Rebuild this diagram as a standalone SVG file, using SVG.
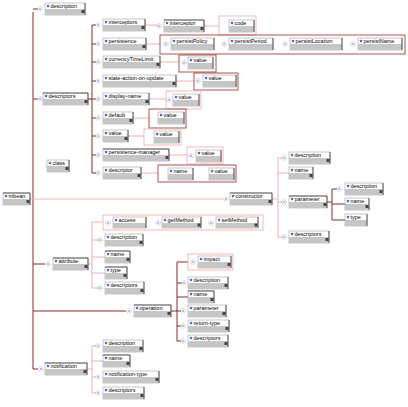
<svg xmlns="http://www.w3.org/2000/svg" xmlns:xlink="http://www.w3.org/1999/xlink" width="408" height="407" viewBox="0 0 408 407">
<style>
.dk{stroke:#8b2b2b;stroke-width:1;fill:none}
.pk{stroke:#f0b0b0;stroke-width:1;fill:none}
.b{fill:#fff;stroke:#909090;stroke-width:.5}
.g{fill:#c6c6c6}
.r{stroke:#333;stroke-width:.8}
.tp{stroke:#222;stroke-width:.7}
text{font-family:"Liberation Sans",Arial,sans-serif;font-size:5.5px;fill:#000}
.gp{fill:none;stroke:#f0a8a8;stroke-width:.8}
.gd{fill:none;stroke:#9a2a2a;stroke-width:.8}
</style>
<defs>
<path id="st" d="M0 -1.7 L.5 -.5 1.7 -.5 .7 .2 1 1.5 0 .7 -1 1.5 -.7 .2 -1.7 -.5 -.5 -.5z" fill="#1530c8"/>
<g id="ic"><circle r="2.3" fill="none" stroke="#8890a8" stroke-width=".6" stroke-dasharray=".8 .6"/><circle r=".7" fill="#3050c0"/></g>
<rect id="ex" width="3" height="3" fill="#444"/>
</defs>
<rect width="408" height="407" fill="#fff"/>

<g id="connectors">
<path class="dk" d="M33 12V369M33 9H38M33 99H38M33 264H45M33 311H126M33 369H38"/>
<path class="pk" d="M30 199H223"/>
<path class="dk" d="M88 99H92M92 25V173M92 25H96M92 44H96M92 62H96M92 81H96M92 99H96M92 118H96M92 136H96M92 155H96M92 173H96"/>
<path class="pk" d="M145 25H157M146 44H160M160 62H179M176 81H194M149 99H166M133 118H149M128 136H144M169 155H187M141 173H158M204 26H219"/>
<path class="pk" d="M272 199H278M278 158V237M278 158H282M278 173H289M278 202H282M278 237H282"/>
<path class="dk" d="M327 202H332M332 189V220M332 189H337M332 204H345M332 220H345"/>
<path class="pk" d="M88 264H92M92 222V288M92 222H103M92 240H98M92 257H105M92 273H105M92 288H98"/>
<path class="dk" d="M171 311H177M177 262V341M177 262H188M177 283H182M177 297H188M177 311H181M177 326H181M177 341H181"/>
<path class="pk" d="M87 369H92M92 346V393M92 346H96M92 361H103M92 377H96M92 393H96"/>
</g>

<g id="icons">
<use href="#ic" x="40" y="9"/><use href="#ic" x="40" y="99"/><use href="#ic" x="226" y="199"/><use href="#ic" x="48" y="264"/><use href="#ic" x="129" y="311"/><use href="#ic" x="41" y="369"/>
<use href="#ic" x="98" y="25"/><use href="#ic" x="98" y="44"/><use href="#ic" x="98" y="62"/><use href="#ic" x="98" y="81"/><use href="#ic" x="98" y="99"/><use href="#ic" x="98" y="118"/><use href="#ic" x="98" y="136"/><use href="#ic" x="98" y="155"/><use href="#ic" x="98" y="173"/>
<use href="#ic" x="159" y="26"/><use href="#ic" x="166" y="44"/><use href="#ic" x="224" y="44"/><use href="#ic" x="285" y="44"/><use href="#ic" x="353" y="44"/>
<use href="#ic" x="184" y="63"/><use href="#ic" x="198" y="81"/><use href="#ic" x="169" y="100"/><use href="#ic" x="191" y="156"/>
<use href="#ic" x="284" y="158"/><use href="#ic" x="284" y="202"/><use href="#ic" x="284" y="237"/><use href="#ic" x="339" y="189"/>
<use href="#ic" x="108" y="223"/><use href="#ic" x="158" y="223"/><use href="#ic" x="211" y="223"/><use href="#ic" x="100" y="240"/><use href="#ic" x="100" y="288"/>
<use href="#ic" x="193" y="262"/><use href="#ic" x="184" y="283"/><use href="#ic" x="183" y="311"/><use href="#ic" x="183" y="326"/><use href="#ic" x="183" y="341"/>
<use href="#ic" x="98" y="346"/><use href="#ic" x="98" y="377"/><use href="#ic" x="98" y="393"/>
</g>

<g id="groups">
<rect class="gp" x="219" y="16" width="37" height="19"/>
<rect class="gd" x="160" y="35" width="245" height="19"/>
<rect class="gd" x="179" y="55" width="37" height="17"/>
<rect class="gd" x="194" y="73" width="44" height="17"/>
<rect class="gp" x="166" y="91" width="35" height="18"/>
<rect class="gd" x="149" y="109" width="37" height="19"/>
<rect class="gp" x="144" y="129" width="37" height="16"/>
<rect class="gp" x="187" y="147" width="36" height="17"/>
<rect class="gd" x="158" y="165" width="78" height="17"/>
<rect class="gp" x="103" y="215" width="160" height="15"/>
<rect class="gp" x="188" y="254" width="45" height="16"/>
</g>

<g id="mbean" transform="translate(3,193)"><rect class="b" width="27" height="12"/><rect class="g" y="6" width="27" height="6"/><line class="tp" x1="0" y1="0" x2="27" y2="0"/><line class="r" x1="27" y1="0" x2="27" y2="12"/><use href="#st" x="3" y="3"/><use href="#ex" x="23.5" y="7"/><text x="5.5" y="5">mbean</text></g>
<g id="description" transform="translate(45,3)"><rect class="b" width="40" height="12"/><rect class="g" y="6" width="40" height="6"/><line class="r" x1="40" y1="0" x2="40" y2="12"/><use href="#st" x="3" y="3"/><use href="#ex" x="36.5" y="7"/><text x="5.5" y="5">description</text></g>
<g id="descriptors" transform="translate(43,93)"><rect class="b" width="45" height="12"/><rect class="g" y="6" width="45" height="6"/><line class="tp" x1="0" y1="0" x2="45" y2="0"/><line class="r" x1="45" y1="0" x2="45" y2="12"/><use href="#st" x="3" y="3"/><use href="#ex" x="41.5" y="7"/><text x="5.5" y="5">descriptors</text></g>
<g id="class" transform="translate(47,160)"><rect class="b" width="22" height="12"/><rect class="g" y="6" width="22" height="6"/><line class="r" x1="22" y1="0" x2="22" y2="12"/><use href="#st" x="3" y="3"/><use href="#ex" x="18.5" y="7"/><text x="5.5" y="5">class</text></g>
<g id="constructor" transform="translate(230,193)"><rect class="b" width="42" height="12"/><rect class="g" y="6" width="42" height="6"/><line class="tp" x1="0" y1="0" x2="42" y2="0"/><line class="r" x1="42" y1="0" x2="42" y2="12"/><use href="#st" x="3" y="3"/><use href="#ex" x="38.5" y="7"/><text x="5.5" y="5">constructor</text></g>
<g id="attribute" transform="translate(53,258)"><rect class="b" width="35" height="12"/><rect class="g" y="6" width="35" height="6"/><line class="tp" x1="0" y1="0" x2="35" y2="0"/><line class="r" x1="35" y1="0" x2="35" y2="12"/><use href="#st" x="3" y="3"/><use href="#ex" x="31.5" y="7"/><text x="5.5" y="5">attribute</text></g>
<g id="operation" transform="translate(134,305)"><rect class="b" width="37" height="12"/><rect class="g" y="6" width="37" height="6"/><line class="tp" x1="0" y1="0" x2="37" y2="0"/><line class="r" x1="37" y1="0" x2="37" y2="12"/><use href="#st" x="3" y="3"/><use href="#ex" x="33.5" y="7"/><text x="5.5" y="5">operation</text></g>
<g id="notification" transform="translate(45,363)"><rect class="b" width="42" height="12"/><rect class="g" y="6" width="42" height="6"/><line class="tp" x1="0" y1="0" x2="42" y2="0"/><line class="r" x1="42" y1="0" x2="42" y2="12"/><use href="#st" x="3" y="3"/><use href="#ex" x="38.5" y="7"/><text x="5.5" y="5">notification</text></g>

<g id="d-interceptors" transform="translate(103,19)"><rect class="b" width="42" height="12"/><rect class="g" y="6" width="42" height="6"/><line class="r" x1="42" y1="0" x2="42" y2="12"/><use href="#st" x="3" y="3"/><use href="#ex" x="38.5" y="7"/><text x="5.5" y="5">interceptors</text></g>
<g id="d-persistence" transform="translate(103,38)"><rect class="b" width="43" height="12"/><rect class="g" y="6" width="43" height="6"/><line class="r" x1="43" y1="0" x2="43" y2="12"/><use href="#st" x="3" y="3"/><use href="#ex" x="39.5" y="7"/><text x="5.5" y="5">persistence</text></g>
<g id="d-currencyTimeLimit" transform="translate(103,56)"><rect class="b" width="57" height="12"/><rect class="g" y="6" width="57" height="6"/><line class="r" x1="57" y1="0" x2="57" y2="12"/><use href="#st" x="3" y="3"/><use href="#ex" x="53.5" y="7"/><text x="5.5" y="5">currencyTimeLimit</text></g>
<g id="d-state-action-on-update" transform="translate(103,75)"><rect class="b" width="73" height="12"/><rect class="g" y="6" width="73" height="6"/><line class="r" x1="73" y1="0" x2="73" y2="12"/><use href="#st" x="3" y="3"/><use href="#ex" x="69.5" y="7"/><text x="5.5" y="5">state-action-on-update</text></g>
<g id="d-display-name" transform="translate(103,93)"><rect class="b" width="46" height="12"/><rect class="g" y="6" width="46" height="6"/><line class="r" x1="46" y1="0" x2="46" y2="12"/><use href="#st" x="3" y="3"/><use href="#ex" x="42.5" y="7"/><text x="5.5" y="5">display-name</text></g>
<g id="d-default" transform="translate(103,112)"><rect class="b" width="30" height="12"/><rect class="g" y="6" width="30" height="6"/><line class="r" x1="30" y1="0" x2="30" y2="12"/><use href="#st" x="3" y="3"/><use href="#ex" x="26.5" y="7"/><text x="5.5" y="5">default</text></g>
<g id="d-value" transform="translate(103,130)"><rect class="b" width="25" height="12"/><rect class="g" y="6" width="25" height="6"/><line class="r" x1="25" y1="0" x2="25" y2="12"/><use href="#st" x="3" y="3"/><use href="#ex" x="21.5" y="7"/><text x="5.5" y="5">value</text></g>
<g id="d-persistence-manager" transform="translate(103,149)"><rect class="b" width="66" height="12"/><rect class="g" y="6" width="66" height="6"/><line class="tp" x1="0" y1="0" x2="66" y2="0"/><line class="r" x1="66" y1="0" x2="66" y2="12"/><use href="#st" x="3" y="3"/><use href="#ex" x="62.5" y="7"/><text x="5.5" y="5">persistence-manager</text></g>
<g id="d-descriptor" transform="translate(103,167)"><rect class="b" width="38" height="12"/><rect class="g" y="6" width="38" height="6"/><line class="r" x1="38" y1="0" x2="38" y2="12"/><use href="#st" x="3" y="3"/><use href="#ex" x="34.5" y="7"/><text x="5.5" y="5">descriptor</text></g>

<g id="interceptor" transform="translate(164,20)"><rect class="b" width="40" height="12"/><rect class="g" y="6" width="40" height="6"/><line class="tp" x1="0" y1="0" x2="40" y2="0"/><line class="r" x1="40" y1="0" x2="40" y2="12"/><use href="#st" x="3" y="3"/><use href="#ex" x="36.5" y="7"/><text x="5.5" y="5">interceptor</text></g>
<g id="a-code" transform="translate(229,20)"><rect class="b" width="25" height="12"/><rect class="g" y="6" width="25" height="6"/><line class="r" x1="25" y1="0" x2="25" y2="12"/><use href="#st" x="3" y="3"/><text x="5.5" y="5">code</text></g>
<g id="a-persistPolicy" transform="translate(171,38)"><rect class="b" width="43" height="12"/><rect class="g" y="6" width="43" height="6"/><line class="r" x1="43" y1="0" x2="43" y2="12"/><use href="#st" x="3" y="3"/><text x="5.5" y="5">persistPolicy</text></g>
<g id="a-persistPeriod" transform="translate(229,38)"><rect class="b" width="44" height="12"/><rect class="g" y="6" width="44" height="6"/><line class="r" x1="44" y1="0" x2="44" y2="12"/><use href="#st" x="3" y="3"/><text x="5.5" y="5">persistPeriod</text></g>
<g id="a-persistLocation" transform="translate(290,38)"><rect class="b" width="52" height="12"/><rect class="g" y="6" width="52" height="6"/><line class="r" x1="52" y1="0" x2="52" y2="12"/><use href="#st" x="3" y="3"/><text x="5.5" y="5">persistLocation</text></g>
<g id="a-persistName" transform="translate(358,38)"><rect class="b" width="44" height="12"/><rect class="g" y="6" width="44" height="6"/><line class="r" x1="44" y1="0" x2="44" y2="12"/><use href="#st" x="3" y="3"/><text x="5.5" y="5">persistName</text></g>
<g id="a-value-ctl" transform="translate(188,57)"><rect class="b" width="25" height="12"/><rect class="g" y="6" width="25" height="6"/><line class="r" x1="25" y1="0" x2="25" y2="12"/><use href="#st" x="3" y="3"/><text x="5.5" y="5">value</text></g>
<g id="a-value-state" transform="translate(203,75)"><rect class="b" width="33" height="12"/><rect class="g" y="6" width="33" height="6"/><line class="r" x1="33" y1="0" x2="33" y2="12"/><use href="#st" x="3" y="3"/><text x="5.5" y="5">value</text></g>
<g id="a-value-display" transform="translate(173,94)"><rect class="b" width="26" height="12"/><rect class="g" y="6" width="26" height="6"/><line class="r" x1="26" y1="0" x2="26" y2="12"/><use href="#st" x="3" y="3"/><text x="5.5" y="5">value</text></g>
<g id="a-value-default" transform="translate(158,112)"><rect class="b" width="26" height="12"/><rect class="g" y="6" width="26" height="6"/><line class="r" x1="26" y1="0" x2="26" y2="12"/><use href="#st" x="3" y="3"/><text x="5.5" y="5">value</text></g>
<g id="a-value-value" transform="translate(154,131)"><rect class="b" width="25" height="12"/><rect class="g" y="6" width="25" height="6"/><line class="r" x1="25" y1="0" x2="25" y2="12"/><use href="#st" x="3" y="3"/><text x="5.5" y="5">value</text></g>
<g id="a-value-pm" transform="translate(196,150)"><rect class="b" width="25" height="12"/><rect class="g" y="6" width="25" height="6"/><line class="r" x1="25" y1="0" x2="25" y2="12"/><use href="#st" x="3" y="3"/><text x="5.5" y="5">value</text></g>
<g id="a-name-desc" transform="translate(168,168)"><rect class="b" width="25" height="12"/><rect class="g" y="6" width="25" height="6"/><line class="r" x1="25" y1="0" x2="25" y2="12"/><use href="#st" x="3" y="3"/><text x="5.5" y="5">name</text></g>
<g id="a-value-desc" transform="translate(209,168)"><rect class="b" width="25" height="12"/><rect class="g" y="6" width="25" height="6"/><line class="r" x1="25" y1="0" x2="25" y2="12"/><use href="#st" x="3" y="3"/><text x="5.5" y="5">value</text></g>

<g id="c-description" transform="translate(289,152)"><rect class="b" width="41" height="12"/><rect class="g" y="6" width="41" height="6"/><line class="r" x1="41" y1="0" x2="41" y2="12"/><use href="#st" x="3" y="3"/><use href="#ex" x="37.5" y="7"/><text x="5.5" y="5">description</text></g>
<g id="c-name" transform="translate(289,167)"><rect class="b" width="24" height="12"/><rect class="g" y="6" width="24" height="6"/><line class="r" x1="24" y1="0" x2="24" y2="12"/><use href="#st" x="3" y="3"/><use href="#ex" x="20.5" y="7"/><text x="5.5" y="5">name</text></g>
<g id="c-parameter" transform="translate(289,196)"><rect class="b" width="38" height="12"/><rect class="g" y="6" width="38" height="6"/><line class="tp" x1="0" y1="0" x2="38" y2="0"/><line class="r" x1="38" y1="0" x2="38" y2="12"/><use href="#st" x="3" y="3"/><use href="#ex" x="34.5" y="7"/><text x="5.5" y="5">parameter</text></g>
<g id="c-descriptors" transform="translate(289,231)"><rect class="b" width="40" height="12"/><rect class="g" y="6" width="40" height="6"/><line class="r" x1="40" y1="0" x2="40" y2="12"/><use href="#st" x="3" y="3"/><use href="#ex" x="36.5" y="7"/><text x="5.5" y="5">descriptors</text></g>
<g id="p-description" transform="translate(345,183)"><rect class="b" width="38" height="12"/><rect class="g" y="6" width="38" height="6"/><line class="r" x1="38" y1="0" x2="38" y2="12"/><use href="#st" x="3" y="3"/><use href="#ex" x="34.5" y="7"/><text x="5.5" y="5">description</text></g>
<g id="p-name" transform="translate(345,198)"><rect class="b" width="24" height="12"/><rect class="g" y="6" width="24" height="6"/><line class="r" x1="24" y1="0" x2="24" y2="12"/><use href="#st" x="3" y="3"/><use href="#ex" x="20.5" y="7"/><text x="5.5" y="5">name</text></g>
<g id="p-type" transform="translate(345,214)"><rect class="b" width="22" height="12"/><rect class="g" y="6" width="22" height="6"/><line class="r" x1="22" y1="0" x2="22" y2="12"/><use href="#st" x="3" y="3"/><text x="5.5" y="5">type</text></g>

<g id="at-access" transform="translate(113,217)"><rect class="b" width="33" height="11"/><rect class="g" y="6" width="33" height="5"/><line class="r" x1="33" y1="0" x2="33" y2="11"/><use href="#st" x="3" y="3"/><text x="5.5" y="5">access</text></g>
<g id="at-getMethod" transform="translate(162,217)"><rect class="b" width="39" height="11"/><rect class="g" y="6" width="39" height="5"/><line class="r" x1="39" y1="0" x2="39" y2="11"/><use href="#st" x="3" y="3"/><use href="#ex" x="35.5" y="6.5"/><text x="5.5" y="5">getMethod</text></g>
<g id="at-setMethod" transform="translate(216,217)"><rect class="b" width="42" height="11"/><rect class="g" y="6" width="42" height="5"/><line class="r" x1="42" y1="0" x2="42" y2="11"/><use href="#st" x="3" y="3"/><use href="#ex" x="38.5" y="6.5"/><text x="5.5" y="5">setMethod</text></g>
<g id="at-description" transform="translate(105,234)"><rect class="b" width="38" height="12"/><rect class="g" y="6" width="38" height="6"/><line class="r" x1="38" y1="0" x2="38" y2="12"/><use href="#st" x="3" y="3"/><use href="#ex" x="34.5" y="7"/><text x="5.5" y="5">description</text></g>
<g id="at-name" transform="translate(105,251)"><rect class="b" width="25" height="12"/><rect class="g" y="6" width="25" height="6"/><line class="tp" x1="0" y1="0" x2="25" y2="0"/><line class="r" x1="25" y1="0" x2="25" y2="12"/><use href="#st" x="3" y="3"/><use href="#ex" x="21.5" y="7"/><text x="5.5" y="5">name</text></g>
<g id="at-type" transform="translate(105,267)"><rect class="b" width="22" height="12"/><rect class="g" y="6" width="22" height="6"/><line class="tp" x1="0" y1="0" x2="22" y2="0"/><line class="r" x1="22" y1="0" x2="22" y2="12"/><use href="#st" x="3" y="3"/><use href="#ex" x="18.5" y="7"/><text x="5.5" y="5">type</text></g>
<g id="at-descriptors" transform="translate(105,282)"><rect class="b" width="39" height="12"/><rect class="g" y="6" width="39" height="6"/><line class="r" x1="39" y1="0" x2="39" y2="12"/><use href="#st" x="3" y="3"/><use href="#ex" x="35.5" y="7"/><text x="5.5" y="5">descriptors</text></g>

<g id="o-impact" transform="translate(198,256)"><rect class="b" width="33" height="12"/><rect class="g" y="6" width="33" height="6"/><line class="r" x1="33" y1="0" x2="33" y2="12"/><use href="#st" x="3" y="3"/><use href="#ex" x="29.5" y="7"/><text x="5.5" y="5">impact</text></g>
<g id="o-description" transform="translate(188,277)"><rect class="b" width="40" height="12"/><rect class="g" y="6" width="40" height="6"/><line class="r" x1="40" y1="0" x2="40" y2="12"/><use href="#st" x="3" y="3"/><use href="#ex" x="36.5" y="7"/><text x="5.5" y="5">description</text></g>
<g id="o-name" transform="translate(188,291)"><rect class="b" width="26" height="12"/><rect class="g" y="6" width="26" height="6"/><line class="tp" x1="0" y1="0" x2="26" y2="0"/><line class="r" x1="26" y1="0" x2="26" y2="12"/><use href="#st" x="3" y="3"/><use href="#ex" x="22.5" y="7"/><text x="5.5" y="5">name</text></g>
<g id="o-parameter" transform="translate(188,305)"><rect class="b" width="38" height="12"/><rect class="g" y="6" width="38" height="6"/><line class="r" x1="38" y1="0" x2="38" y2="12"/><use href="#st" x="3" y="3"/><use href="#ex" x="34.5" y="7"/><text x="5.5" y="5">parameter</text></g>
<g id="o-return-type" transform="translate(188,320)"><rect class="b" width="41" height="12"/><rect class="g" y="6" width="41" height="6"/><line class="r" x1="41" y1="0" x2="41" y2="12"/><use href="#st" x="3" y="3"/><use href="#ex" x="37.5" y="7"/><text x="5.5" y="5">return-type</text></g>
<g id="o-descriptors" transform="translate(188,335)"><rect class="b" width="40" height="12"/><rect class="g" y="6" width="40" height="6"/><line class="r" x1="40" y1="0" x2="40" y2="12"/><use href="#st" x="3" y="3"/><use href="#ex" x="36.5" y="7"/><text x="5.5" y="5">descriptors</text></g>

<g id="n-description" transform="translate(103,340)"><rect class="b" width="40" height="12"/><rect class="g" y="6" width="40" height="6"/><line class="r" x1="40" y1="0" x2="40" y2="12"/><use href="#st" x="3" y="3"/><use href="#ex" x="36.5" y="7"/><text x="5.5" y="5">description</text></g>
<g id="n-name" transform="translate(103,355)"><rect class="b" width="27" height="12"/><rect class="g" y="6" width="27" height="6"/><line class="tp" x1="0" y1="0" x2="27" y2="0"/><line class="r" x1="27" y1="0" x2="27" y2="12"/><use href="#st" x="3" y="3"/><use href="#ex" x="23.5" y="7"/><text x="5.5" y="5">name</text></g>
<g id="n-notification-type" transform="translate(103,371)"><rect class="b" width="56" height="12"/><rect class="g" y="6" width="56" height="6"/><line class="r" x1="56" y1="0" x2="56" y2="12"/><use href="#st" x="3" y="3"/><use href="#ex" x="52.5" y="7"/><text x="5.5" y="5">notification-type</text></g>
<g id="n-descriptors" transform="translate(103,387)"><rect class="b" width="41" height="12"/><rect class="g" y="6" width="41" height="6"/><line class="r" x1="41" y1="0" x2="41" y2="12"/><use href="#st" x="3" y="3"/><use href="#ex" x="37.5" y="7"/><text x="5.5" y="5">descriptors</text></g>
</svg>
